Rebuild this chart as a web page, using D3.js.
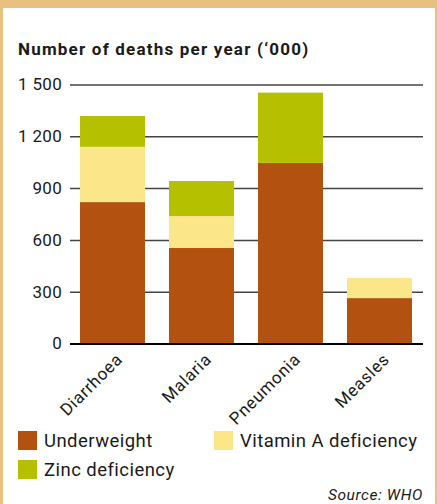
<!DOCTYPE html>
<html>
<head>
<meta charset="utf-8">
<script src="https://cdn.jsdelivr.net/npm/d3@7"></script>
<style>
  html, body { margin: 0; padding: 0; background: #fff; }
  svg { display: block; }
</style>
</head>
<body>
<svg id="chart" width="437" height="504"></svg>
<script>
const categories = ["Diarrhoea", "Malaria", "Pneumonia", "Measles"];
const seriesNames = ["Underweight", "Vitamin A deficiency", "Zinc deficiency"];
const underweight = [819, 553, 1046, 263];
const vitaminA = [320, 185, 0, 116];
const zinc = [179, 203, 407, 0];
const yTicks = [0, 300, 600, 900, 1200, 1500];
const yTickLabels = ["0", "300", "600", "900", "1 200", "1 500"];
const colors = ["#B25110", "#FBE68A", "#B5C000"];
const title = "Number of deaths per year (\u2018000)";
const source = "Source: WHO";

const svg = d3.select("#chart");
const W = 437, H = 504;
const font = "Roboto, 'DejaVu Sans', sans-serif";
const ink = "#1a1a1a";

// frame
svg.append("rect").attr("x", 0).attr("y", 0).attr("width", W).attr("height", H).attr("fill", "#E8C07F");
svg.append("rect").attr("x", 3).attr("y", 8).attr("width", W - 5).attr("height", H - 8).attr("fill", "#fff");

const table = categories.map((c, i) => ({ cat: c, Underweight: underweight[i], "Vitamin A deficiency": vitaminA[i], "Zinc deficiency": zinc[i] }));
const stacked = d3.stack().keys(seriesNames)(table);

const x = d3.scaleBand().domain(categories).range([70, 422]).paddingInner(0.27).paddingOuter(0.1125);
const y = d3.scaleLinear().domain([0, 1500]).range([343.5, 84.5]);

// title
svg.append("text").attr("x", 18).attr("y", 55).text(title)
  .attr("font-family", font).attr("font-weight", "bold").attr("font-size", 17)
  .attr("letter-spacing", 1.2).attr("fill", ink);

// gridlines via axis
const yAxis = d3.axisLeft(y).tickValues(yTicks).tickSize(-(423 - 70)).tickFormat((d, i) => yTickLabels[i]).tickPadding(8);
const gAxis = svg.append("g").attr("transform", "translate(70,0)").call(yAxis);
gAxis.select(".domain").remove();
gAxis.selectAll(".tick line").attr("stroke", "#444").attr("stroke-width", 1.5);
gAxis.selectAll(".tick text").attr("font-family", font).attr("font-size", 17).attr("fill", ink)
  .attr("x", -8).attr("letter-spacing", 0.3);

// bars
svg.append("g").selectAll("g").data(stacked).join("g")
  .attr("fill", (d, i) => colors[i])
  .selectAll("rect").data(d => d).join("rect")
  .attr("x", d => x(d.data.cat))
  .attr("width", x.bandwidth())
  .attr("y", d => y(d[1]))
  .attr("height", d => y(d[0]) - y(d[1]));

// zero line
svg.append("line").attr("x1", 70).attr("x2", 423).attr("y1", y(0) + 0.5).attr("y2", y(0) + 0.5)
  .attr("stroke", "#000").attr("stroke-width", 2.2);

// category labels
const xAxis = d3.axisBottom(x).tickSize(0).tickPadding(0);
const gx = svg.append("g").attr("transform", `translate(0,${y(0)})`).call(xAxis);
gx.select(".domain").remove();
gx.selectAll(".tick text")
  .attr("font-family", font).attr("font-size", 17).attr("fill", ink).attr("letter-spacing", 0.7)
  .attr("text-anchor", "end").attr("dy", 0).attr("y", 0)
  .attr("transform", "translate(11,17) rotate(-45)");

// legend
const legendPos = [[18, 431], [214, 431], [18, 460]];
const lg = svg.append("g").selectAll("g").data(seriesNames).join("g")
  .attr("transform", (d, i) => `translate(${legendPos[i][0]},${legendPos[i][1]})`);
lg.append("rect").attr("width", 19).attr("height", 19).attr("fill", (d, i) => colors[i]);
lg.append("text").attr("x", 26).attr("y", 16).text(d => d)
  .attr("font-family", font).attr("font-size", 18.5).attr("letter-spacing", 0.45).attr("fill", ink);

svg.append("text").attr("x", 423).attr("y", 500).attr("text-anchor", "end").text(source)
  .attr("font-family", font).attr("font-style", "italic").attr("font-size", 15.5)
  .attr("letter-spacing", 0.6).attr("fill", ink);
</script>
</body>
</html>
